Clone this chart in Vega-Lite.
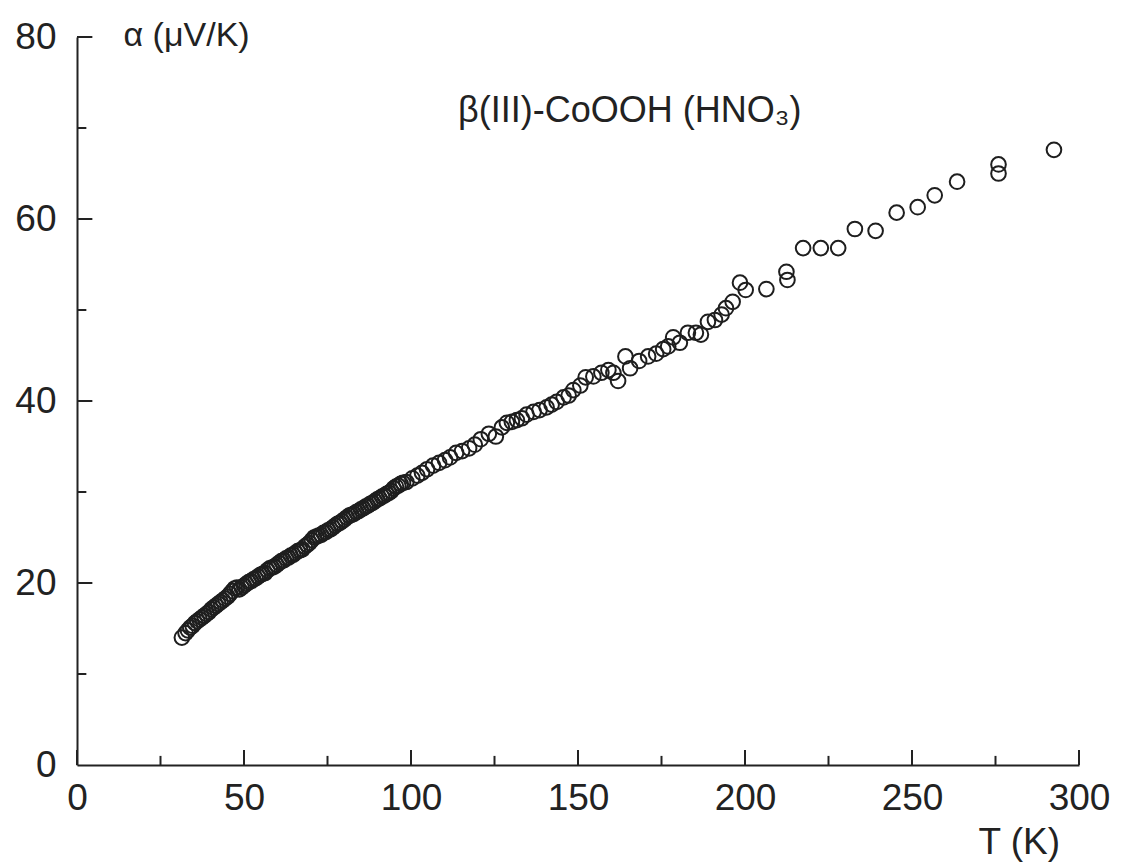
{
  "$schema": "https://vega.github.io/schema/vega-lite/v6.json",
  "width": 1002,
  "height": 728,
  "autosize": {"type": "none"},
  "padding": {"left": 77, "top": 37, "right": 69, "bottom": 100},
  "background": "white",
  "config": {"view": {"stroke": null}, "font": "Liberation Sans"},
  "datasets": {
    "xMajor": [{"tick": 0}, {"tick": 50}, {"tick": 100}, {"tick": 150}, {"tick": 200}, {"tick": 250}, {"tick": 300}],
    "xMinor": [{"tick": 25}, {"tick": 75}, {"tick": 125}, {"tick": 175}, {"tick": 225}, {"tick": 275}],
    "yMajor": [{"tick": 20}, {"tick": 40}, {"tick": 60}, {"tick": 80}],
    "yMinor": [{"tick": 10}, {"tick": 30}, {"tick": 50}, {"tick": 70}]
  },
  "layer": [
    {
      "data": {"values": [
        {"T": 31.4, "alpha": 14.0}, {"T": 32.5, "alpha": 14.5}, {"T": 33.2, "alpha": 14.8}, {"T": 33.9, "alpha": 15.1},
        {"T": 34.6, "alpha": 15.3}, {"T": 35.3, "alpha": 15.6}, {"T": 36.0, "alpha": 15.8}, {"T": 36.7, "alpha": 16.0},
        {"T": 37.4, "alpha": 16.2}, {"T": 38.1, "alpha": 16.4}, {"T": 38.8, "alpha": 16.6}, {"T": 39.5, "alpha": 16.8},
        {"T": 40.2, "alpha": 17.1}, {"T": 40.9, "alpha": 17.3}, {"T": 41.6, "alpha": 17.5}, {"T": 42.3, "alpha": 17.7},
        {"T": 43.0, "alpha": 17.9}, {"T": 43.7, "alpha": 18.1}, {"T": 44.4, "alpha": 18.3}, {"T": 45.1, "alpha": 18.5},
        {"T": 45.8, "alpha": 18.8}, {"T": 46.5, "alpha": 19.1}, {"T": 47.2, "alpha": 19.4}, {"T": 47.9, "alpha": 19.5},
        {"T": 48.6, "alpha": 19.3}, {"T": 49.3, "alpha": 19.5}, {"T": 50.0, "alpha": 19.7}, {"T": 50.7, "alpha": 19.9},
        {"T": 51.4, "alpha": 20.1}, {"T": 52.1, "alpha": 20.2}, {"T": 52.8, "alpha": 20.4}, {"T": 53.5, "alpha": 20.5},
        {"T": 54.2, "alpha": 20.7}, {"T": 54.9, "alpha": 20.9}, {"T": 55.6, "alpha": 21.0}, {"T": 56.3, "alpha": 21.1},
        {"T": 57.0, "alpha": 21.4}, {"T": 57.7, "alpha": 21.6}, {"T": 58.4, "alpha": 21.7}, {"T": 59.1, "alpha": 21.8},
        {"T": 59.8, "alpha": 22.0}, {"T": 60.5, "alpha": 22.2}, {"T": 61.2, "alpha": 22.4}, {"T": 61.9, "alpha": 22.5},
        {"T": 62.6, "alpha": 22.7}, {"T": 63.3, "alpha": 22.8}, {"T": 64.0, "alpha": 23.0}, {"T": 64.7, "alpha": 23.1},
        {"T": 65.4, "alpha": 23.3}, {"T": 66.1, "alpha": 23.5}, {"T": 66.8, "alpha": 23.6}, {"T": 67.5, "alpha": 23.7},
        {"T": 68.2, "alpha": 24.0}, {"T": 68.9, "alpha": 24.2}, {"T": 69.6, "alpha": 24.4}, {"T": 70.3, "alpha": 24.7},
        {"T": 71.0, "alpha": 25.0}, {"T": 71.7, "alpha": 25.1}, {"T": 72.4, "alpha": 25.2}, {"T": 73.1, "alpha": 25.3},
        {"T": 73.8, "alpha": 25.5}, {"T": 74.5, "alpha": 25.6}, {"T": 75.2, "alpha": 25.8}, {"T": 75.9, "alpha": 25.9},
        {"T": 76.6, "alpha": 26.1}, {"T": 77.3, "alpha": 26.3}, {"T": 78.0, "alpha": 26.5}, {"T": 78.7, "alpha": 26.6},
        {"T": 79.4, "alpha": 26.8}, {"T": 80.1, "alpha": 27.0}, {"T": 80.8, "alpha": 27.2}, {"T": 81.5, "alpha": 27.4},
        {"T": 82.2, "alpha": 27.5}, {"T": 82.9, "alpha": 27.6}, {"T": 83.6, "alpha": 27.8}, {"T": 84.3, "alpha": 27.9},
        {"T": 85.0, "alpha": 28.1}, {"T": 85.7, "alpha": 28.2}, {"T": 86.4, "alpha": 28.4}, {"T": 87.1, "alpha": 28.5},
        {"T": 87.8, "alpha": 28.7}, {"T": 88.5, "alpha": 28.8}, {"T": 89.2, "alpha": 29.0}, {"T": 89.9, "alpha": 29.2},
        {"T": 90.6, "alpha": 29.3}, {"T": 91.3, "alpha": 29.5}, {"T": 92.0, "alpha": 29.6}, {"T": 92.7, "alpha": 29.8},
        {"T": 93.4, "alpha": 29.9}, {"T": 94.1, "alpha": 30.1}, {"T": 94.8, "alpha": 30.4}, {"T": 95.5, "alpha": 30.6},
        {"T": 96.2, "alpha": 30.7}, {"T": 96.9, "alpha": 30.9}, {"T": 97.6, "alpha": 31.0},
        {"T": 98.6, "alpha": 31.1}, {"T": 100.4, "alpha": 31.5}, {"T": 101.9, "alpha": 31.8}, {"T": 103.3, "alpha": 32.1},
        {"T": 104.8, "alpha": 32.5}, {"T": 106.6, "alpha": 32.9}, {"T": 108.4, "alpha": 33.2}, {"T": 110.2, "alpha": 33.5},
        {"T": 111.7, "alpha": 33.8}, {"T": 113.5, "alpha": 34.3}, {"T": 115.3, "alpha": 34.5}, {"T": 117.4, "alpha": 34.8},
        {"T": 119.1, "alpha": 35.2}, {"T": 120.9, "alpha": 35.8}, {"T": 123.3, "alpha": 36.4}, {"T": 125.4, "alpha": 36.1},
        {"T": 127.2, "alpha": 37.1}, {"T": 128.7, "alpha": 37.6}, {"T": 130.2, "alpha": 37.7}, {"T": 131.7, "alpha": 37.9},
        {"T": 133.2, "alpha": 38.1}, {"T": 134.6, "alpha": 38.5}, {"T": 136.7, "alpha": 38.8}, {"T": 138.5, "alpha": 39.0},
        {"T": 140.6, "alpha": 39.3}, {"T": 142.1, "alpha": 39.6}, {"T": 143.6, "alpha": 39.9}, {"T": 145.7, "alpha": 40.4},
        {"T": 147.2, "alpha": 40.6}, {"T": 148.6, "alpha": 41.2}, {"T": 150.7, "alpha": 41.7}, {"T": 152.3, "alpha": 42.6},
        {"T": 154.6, "alpha": 42.7}, {"T": 157.0, "alpha": 43.1}, {"T": 159.1, "alpha": 43.4}, {"T": 160.6, "alpha": 43.1},
        {"T": 162.0, "alpha": 42.2}, {"T": 164.2, "alpha": 44.9}, {"T": 165.6, "alpha": 43.6}, {"T": 168.3, "alpha": 44.4},
        {"T": 171.0, "alpha": 44.9}, {"T": 173.4, "alpha": 45.2}, {"T": 175.5, "alpha": 45.7}, {"T": 177.0, "alpha": 46.0},
        {"T": 178.5, "alpha": 47.0}, {"T": 180.5, "alpha": 46.4}, {"T": 182.9, "alpha": 47.5}, {"T": 185.3, "alpha": 47.5},
        {"T": 186.8, "alpha": 47.3}, {"T": 188.9, "alpha": 48.7}, {"T": 191.0, "alpha": 48.9}, {"T": 193.0, "alpha": 49.5},
        {"T": 194.3, "alpha": 50.2}, {"T": 196.3, "alpha": 50.9}, {"T": 198.5, "alpha": 53.0}, {"T": 200.2, "alpha": 52.2},
        {"T": 206.4, "alpha": 52.3}, {"T": 212.4, "alpha": 54.2}, {"T": 212.7, "alpha": 53.3}, {"T": 217.4, "alpha": 56.8},
        {"T": 222.7, "alpha": 56.8}, {"T": 227.9, "alpha": 56.8}, {"T": 232.9, "alpha": 58.9}, {"T": 239.1, "alpha": 58.7},
        {"T": 245.4, "alpha": 60.7}, {"T": 251.7, "alpha": 61.3}, {"T": 256.8, "alpha": 62.6}, {"T": 263.5, "alpha": 64.1},
        {"T": 275.9, "alpha": 66.0}, {"T": 275.9, "alpha": 65.0}, {"T": 292.5, "alpha": 67.6}
      ]},
      "mark": {"type": "point", "shape": "circle", "filled": false, "stroke": "#1e1e1e", "strokeWidth": 2, "size": 215, "opacity": 1},
      "encoding": {
        "x": {
          "field": "T", "type": "quantitative",
          "scale": {"domain": [0, 300], "nice": false, "zero": false},
          "axis": {
            "title": "T (K)",
            "values": [0, 50, 100, 150, 200, 250, 300],
            "ticks": false,
            "domainColor": "#222", "domainWidth": 2,
            "grid": false,
            "labelFont": "Liberation Sans", "labelFontSize": 37, "labelColor": "#222",
            "labelPadding": 15, "labelFlush": false, "labelOverlap": false, "labelBound": false,
            "titleFont": "Liberation Sans", "titleFontSize": 37, "titleFontWeight": "normal", "titleColor": "#222",
            "titleAnchor": null, "titleX": 901, "titleY": 88, "titleAlign": "left", "titleBaseline": "alphabetic"
          }
        },
        "y": {
          "field": "alpha", "type": "quantitative",
          "scale": {"domain": [0, 80], "nice": false},
          "axis": {
            "title": "α (μV/K)",
            "values": [0, 20, 40, 60, 80],
            "ticks": false,
            "domainColor": "#222", "domainWidth": 2,
            "grid": false,
            "labelFont": "Liberation Sans", "labelFontSize": 37, "labelColor": "#222",
            "labelPadding": 21, "labelFlush": false, "labelOverlap": false, "labelBound": false,
            "titleFont": "Liberation Sans", "titleFontSize": 34, "titleFontWeight": "normal", "titleColor": "#222",
            "titleAngle": 0, "titleAnchor": null, "titleX": 46, "titleY": 8, "titleAlign": "left", "titleBaseline": "alphabetic"
          }
        }
      }
    },
    {
      "data": {"name": "xMajor"},
      "mark": {"type": "rule", "color": "#222", "strokeWidth": 2},
      "encoding": {
        "x": {"field": "tick", "type": "quantitative"},
        "y": {"datum": 0, "type": "quantitative"},
        "y2": {"datum": 1.65}
      }
    },
    {
      "data": {"name": "xMinor"},
      "mark": {"type": "rule", "color": "#222", "strokeWidth": 2},
      "encoding": {
        "x": {"field": "tick", "type": "quantitative"},
        "y": {"datum": 0, "type": "quantitative"},
        "y2": {"datum": 1.0}
      }
    },
    {
      "data": {"name": "yMajor"},
      "mark": {"type": "rule", "color": "#222", "strokeWidth": 2},
      "encoding": {
        "y": {"field": "tick", "type": "quantitative"},
        "x": {"datum": 0, "type": "quantitative"},
        "x2": {"datum": 4.6}
      }
    },
    {
      "data": {"name": "yMinor"},
      "mark": {"type": "rule", "color": "#222", "strokeWidth": 2},
      "encoding": {
        "y": {"field": "tick", "type": "quantitative"},
        "x": {"datum": 0, "type": "quantitative"},
        "x2": {"datum": 2.8}
      }
    },
    {
      "data": {"values": [{"label": "β(III)-CoOOH (HNO₃)"}]},
      "mark": {"type": "text", "font": "Liberation Sans", "fontSize": 36, "color": "#222", "align": "center", "baseline": "alphabetic"},
      "encoding": {
        "x": {"datum": 165.5, "type": "quantitative"},
        "y": {"datum": 70.7, "type": "quantitative"},
        "text": {"field": "label"}
      }
    }
  ]
}
